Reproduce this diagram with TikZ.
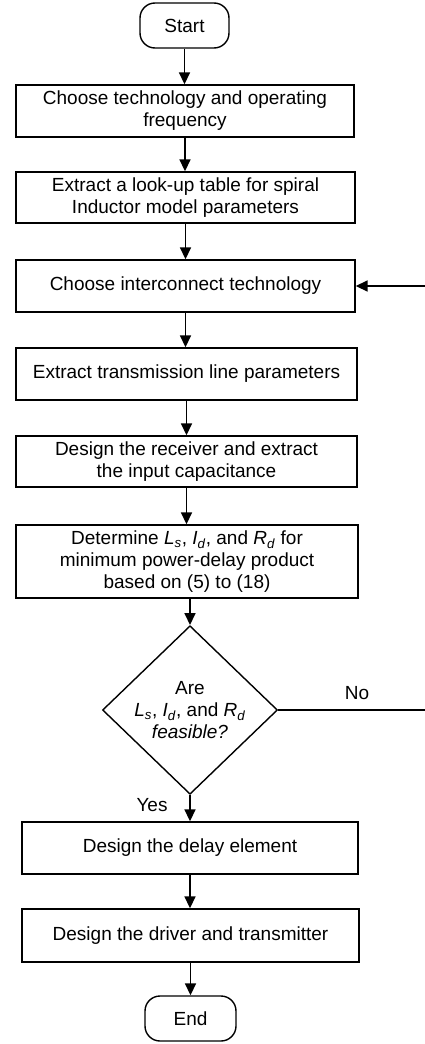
\documentclass[tikz,border=0pt]{standalone}
\usepackage{fontspec}
\setmainfont{Liberation Sans}
\usetikzlibrary{shapes.geometric,arrows.meta}
\newcommand{\vsub}[2]{\textit{#1}\textsubscript{\textit{#2}}}
\begin{document}
\begin{tikzpicture}[x=1pt,y=-1pt,
  every node/.style={font=\fontsize{19}{22}\selectfont},
  procbox/.style={draw, line width=1.4pt, inner sep=0pt, align=center},
  termbox/.style={draw, line width=1.4pt, rounded corners=15pt, inner sep=0pt, align=center},
  decbox/.style={draw, diamond, line width=1.4pt, inner sep=0pt, align=center},
  flow/.style={line width=1.7pt, -{Triangle[length=12pt,width=11pt]}},
  lbl/.style={inner sep=0pt}
]
\useasboundingbox (0,0) rectangle (425,1044);
\clip (0,0) rectangle (425,1044);
\node[termbox, minimum width=89pt, minimum height=45pt] (start) at (184.5,25.5) {Start};
\node[procbox, minimum width=338pt, minimum height=52pt] (b1) at (185,111) {Choose technology and operating\\frequency};
\node[procbox, minimum width=339pt, minimum height=51pt] (b2) at (185.5,197.5) {Extract a look-up table for spiral\\Inductor model parameters};
\node[procbox, minimum width=339pt, minimum height=52pt] (b3) at (185.5,286) {Choose interconnect technology};
\node[procbox, minimum width=341pt, minimum height=52pt] (b4) at (186.5,374) {Extract transmission line parameters};
\node[procbox, minimum width=341pt, minimum height=51pt] (b5) at (186.5,461.5) {Design the receiver and extract\\the input capacitance};
\node[procbox, minimum width=342pt, minimum height=73pt] (b6) at (187,561.5) {Determine \vsub{L}{s}, \vsub{I}{d}, and \vsub{R}{d} for\\minimum power-delay product\\based on (5) to (18)};
\node[decbox, minimum width=175pt, minimum height=151pt] (dec) at (190,710) {Are\\\vsub{L}{s}, \vsub{I}{d}, and \vsub{R}{d}\\\textit{feasible?}};
\node[procbox, minimum width=336pt, minimum height=52pt] (b7) at (190,848) {Design the delay element};
\node[procbox, minimum width=337pt, minimum height=53pt] (b8) at (190.5,935.5) {Design the driver and transmitter};
\node[termbox, minimum width=91pt, minimum height=45pt] (end) at (190.5,1018.5) {End};
\node[lbl] (no) at (357,693) {No};
\node[lbl] (yes) at (152,805) {Yes};
\draw[flow] (start.south) -- (b1.north -| start.south);
\draw[flow] (b1.south) -- (b2.north -| b1.south);
\draw[flow] (b2.south) -- (b3.north -| b2.south);
\draw[flow] (b3.south) -- (b4.north -| b3.south);
\draw[flow] (b4.south) -- (b5.north -| b4.south);
\draw[flow] (b5.south) -- (b6.north -| b5.south);
\draw[flow] (b6.south -| dec.north) -- (dec.north);
\draw[flow] (dec.south) -- (b7.north -| dec.south);
\draw[flow] (b7.south) -- (b8.north -| b7.south);
\draw[flow] (b8.south) -- (end.north -| b8.south);
\draw[flow] (dec.east) -- ++(160,0) |- (b3.east);
\end{tikzpicture}
\end{document}
